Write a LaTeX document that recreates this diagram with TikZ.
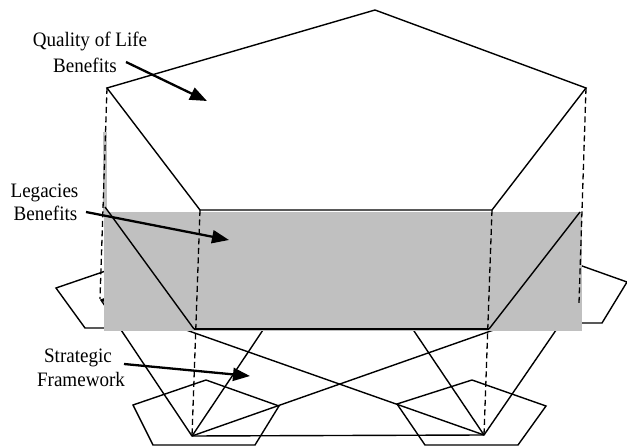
\documentclass[tikz,border=0pt]{standalone}
\usepackage{fontspec}
\setmainfont{Liberation Serif}[FakeStretch=0.93]
\usetikzlibrary{arrows.meta}
\definecolor{silverfill}{RGB}{192,192,192}
\begin{document}
\begin{tikzpicture}[x=1pt,y=-1pt,
  edge/.style={line width=1.4pt, line join=miter},
  proj/.style={line width=1.3pt, dash pattern=on 6pt off 3.5pt},
  lbl/.style={font=\fontsize{20.5}{24}\selectfont, inner sep=0pt, anchor=base},
  pointer/.style={line width=2.3pt, -{Triangle[length=17pt,width=13pt]}}]
\useasboundingbox (0,0) rectangle (627,446);
% ---------- bottom level: strategic framework ----------
% big pentagon vertices
\coordinate (bL)  at (101,300);
\coordinate (bBL) at (192,436);
\coordinate (bBR) at (484,435);
\coordinate (bR)  at (576,301);
\coordinate (bT)  at (338,218);
% small pentagons
\coordinate (lT) at (129,263); \coordinate (lR) at (202,289); \coordinate (lBR) at (185,328); \coordinate (lBL) at (85,328); \coordinate (lL) at (56,288);
\coordinate (rT) at (554,256); \coordinate (rR) at (627,282); \coordinate (rBR) at (602,323); \coordinate (rBL) at (500,323); \coordinate (rL) at (481,282);
\coordinate (sT) at (206,380); \coordinate (sR) at (279,406); \coordinate (sBR) at (255,445); \coordinate (sBL) at (153,445); \coordinate (sL) at (133,405);
\coordinate (tT) at (472,380); \coordinate (tR) at (546,406); \coordinate (tBR) at (518,445); \coordinate (tBL) at (425,445); \coordinate (tL) at (397,404);
\draw[edge] (lT) -- (lR) -- (lBR) -- (lBL) -- (lL) -- cycle;
\draw[edge] (rT) -- (rR) -- (rBR) -- (rBL) -- (rL) -- cycle;
\draw[edge] (sT) -- (sR) -- (sBR) -- (sBL) -- (sL) -- cycle;
\draw[edge] (tT) -- (tR) -- (tBR) -- (tBL) -- (tL) -- cycle;
\draw[edge] (bL) -- (bBL) -- (bBR) -- (bR) -- (bT) -- cycle;
\draw[edge] (bBL) -- (bT) -- (bBR);
\draw[edge] (bBL) -- (bR);
\draw[edge] (bBR) -- (bL);
% ---------- middle level: legacies ----------
\fill[silverfill] (104,212) rectangle (582,331);
\fill[silverfill] (103,132) rectangle (107,212);
\coordinate (mL)  at (105,207);
\coordinate (mBL) at (194,329);
\coordinate (mBR) at (489,329);
\coordinate (mR)  at (580,212);
\draw[edge] (mL) -- (mBL);
\draw[line width=1.8pt] (mBL) -- (mBR);
\draw[edge] (mBR) -- (mR);
% ---------- top level: quality of life ----------
\coordinate (pT)  at (375,10);
\coordinate (pR)  at (586,88);
\coordinate (pBR) at (492,210);
\coordinate (pBL) at (200,210);
\coordinate (pL)  at (107,88);
% projection lines
\draw[proj] (pL) -- (100,299);
\draw[proj] (pR) -- (579,303);
\draw[proj] (pBL) -- (bBL);
\draw[proj] (pBR) -- (bBR);
\filldraw[edge, fill=white] (pT) -- (pR) -- (pBR) -- (pBL) -- (pL) -- cycle;
% ---------- labels ----------
\node[lbl] (q1) at (90,47) {Quality of Life};
\node[lbl] (q2) at (85,73) {Benefits};
\node[lbl] (g1) at (44.5,198) {Legacies};
\node[lbl] (g2) at (45.5,221) {Benefits};
\node[lbl] (s1) at (78,363) {Strategic};
\node[lbl] (s2) at (81,387) {Framework};
\coordinate (a1s) at (126,62);  \coordinate (a1e) at (207,101);
\coordinate (a2s) at (86,212);  \coordinate (a2e) at (229,240);
\coordinate (a3s) at (124,364); \coordinate (a3e) at (250,376);
\draw[pointer] (a1s) -- (a1e);
\draw[pointer] (a2s) -- (a2e);
\draw[pointer] (a3s) -- (a3e);
\end{tikzpicture}
\end{document}
